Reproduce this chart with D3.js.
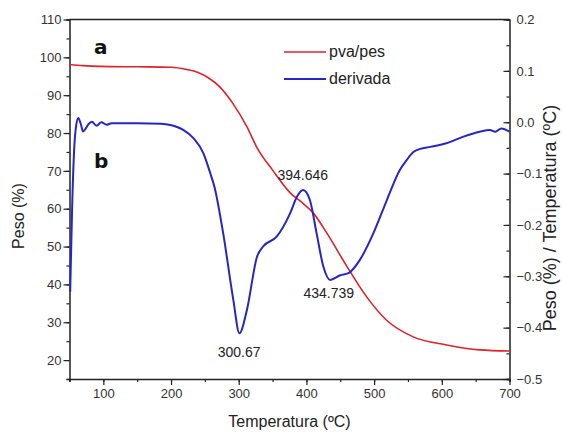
<!DOCTYPE html>
<html>
<head>
<meta charset="utf-8">
<script src="https://cdn.jsdelivr.net/npm/d3@7"></script>
<style>
  body { margin: 0; background: #fff; }
  svg { font-family: "Liberation Sans", Arial, sans-serif; }
</style>
</head>
<body>
<div id="main"></div>
<script>
// TGA curve (pva/pes), left axis
const tempPeso = [50, 70, 95, 150, 200, 223, 240, 255, 272, 291, 312, 328, 350, 376, 395, 410, 430, 460, 489, 518, 557, 607, 656, 700];
const peso = [98.1, 97.8, 97.6, 97.5, 97.4, 96.8, 96.0, 94.6, 92.2, 87.9, 81.7, 75.8, 70.2, 64.2, 61.4, 58.9, 53.6, 44.7, 36.7, 30.6, 26.2, 24.0, 22.7, 22.4];

// DTG curve (derivada), right axis
const tempDeriv = [51, 54, 57, 60, 63, 67, 70, 74, 78, 83, 90, 97, 105, 112, 120, 150, 185, 199, 218, 233, 248, 258, 264, 277, 292, 301, 312, 327, 336, 356, 376, 386, 395, 405, 415, 425, 435, 450, 462, 479, 499, 519, 538, 548, 558, 568, 583, 607, 632, 656, 671, 679, 688, 700];
const deriv = [-0.33, -0.16, -0.05, -0.005, 0.008, -0.005, -0.018, -0.012, -0.004, 0.001, -0.007, 0.0, -0.005, -0.002, -0.002, -0.002, -0.003, -0.0055, -0.015, -0.031, -0.061, -0.0995, -0.125, -0.216, -0.346, -0.411, -0.366, -0.262, -0.242, -0.223, -0.177, -0.145, -0.132, -0.151, -0.216, -0.281, -0.307, -0.298, -0.294, -0.268, -0.216, -0.151, -0.093, -0.074, -0.058, -0.052, -0.048, -0.041, -0.028, -0.0185, -0.015, -0.0185, -0.012, -0.0185];

const xTicks = [100, 200, 300, 400, 500, 600, 700];
const yLeftTicks = [20, 30, 40, 50, 60, 70, 80, 90, 100, 110];
const yRightTicks = [0.2, 0.1, 0.0, -0.1, -0.2, -0.3, -0.4, -0.5];

const peaks = [
  { t: 300.67, v: -0.411, label: "300.67", dy: 24 },
  { t: 394.646, v: -0.132, label: "394.646", dy: -10 },
  { t: 433, v: -0.307, label: "434.739", dy: 18 }
];

const width = 562, height = 433;
const margin = { top: 19.5, right: 52.5, bottom: 54, left: 69.5 };

const svg = d3.select('#main')
  .append('svg')
  .attr('width', width)
  .attr('height', height);

const x = d3.scaleLinear().domain([50, 700]).range([margin.left, width - margin.right]);
const yL = d3.scaleLinear().domain([15, 110]).range([height - margin.bottom, margin.top]);
const yR = d3.scaleLinear().domain([-0.5, 0.2]).range([height - margin.bottom, margin.top]);

const axisColor = '#222';
const labelColor = '#333';

// bottom axis
const gx = svg.append('g')
  .attr('transform', `translate(0,${height - margin.bottom})`);
gx.call(d3.axisBottom(x).tickValues(d3.range(50, 701, 50)).tickSize(3).tickFormat(''));
gx.append('g').call(d3.axisBottom(x).tickValues(xTicks).tickSize(6).tickPadding(4))
  .call(g => g.select('.domain').remove());

// left axis
const gl = svg.append('g').attr('transform', `translate(${margin.left},0)`);
gl.call(d3.axisLeft(yL).tickValues(d3.range(15, 111, 5)).tickSize(3).tickFormat(''));
gl.append('g').call(d3.axisLeft(yL).tickValues(yLeftTicks).tickSize(6).tickPadding(2))
  .call(g => g.select('.domain').remove());

// right axis (ticks inside)
const gr = svg.append('g').attr('transform', `translate(${width - margin.right},0)`);
gr.call(d3.axisRight(yR).tickValues(d3.range(-10, 5).map(d => d * 0.05)).tickSize(-3).tickFormat(''));
gr.append('g').call(d3.axisRight(yR).tickValues(yRightTicks).tickSize(-6).tickPadding(7).tickFormat(d3.format('.1f')))
  .call(g => g.select('.domain').remove());

// top border
svg.append('line')
  .attr('x1', margin.left).attr('x2', width - margin.right)
  .attr('y1', margin.top).attr('y2', margin.top)
  .attr('stroke', axisColor).attr('stroke-width', 1.5);

svg.selectAll('.domain').attr('stroke', axisColor).attr('stroke-width', 1.5);
svg.selectAll('.tick line').attr('stroke', axisColor).attr('stroke-width', 1.2);
svg.selectAll('.tick text').attr('fill', labelColor).attr('font-size', 13);

// curves
const redLine = d3.line()
  .x((d, i) => x(tempPeso[i]))
  .y(d => yL(d))
  .curve(d3.curveMonotoneX);

const blueLine = d3.line()
  .x((d, i) => x(tempDeriv[i]))
  .y(d => yR(d))
  .curve(d3.curveMonotoneX);

svg.append('path')
  .datum(peso)
  .attr('d', redLine)
  .attr('fill', 'none')
  .attr('stroke', '#e0202a')
  .attr('stroke-width', 1.6);

svg.append('path')
  .datum(deriv)
  .attr('d', blueLine)
  .attr('fill', 'none')
  .attr('stroke', '#2626c8')
  .attr('stroke-width', 2);

// peak labels
svg.selectAll('.peak')
  .data(peaks)
  .enter().append('text')
  .attr('class', 'peak')
  .attr('x', d => x(d.t))
  .attr('y', d => yR(d.v) + d.dy)
  .attr('text-anchor', 'middle')
  .attr('font-size', 14)
  .attr('fill', '#222')
  .text(d => d.label);

// a / b markers
svg.append('text').attr('x', 94).attr('y', 54)
  .attr('font-family', '"DejaVu Sans", sans-serif').attr('font-weight', 'bold')
  .attr('font-size', 20).attr('fill', '#111').text('a');
svg.append('text').attr('x', 94).attr('y', 168)
  .attr('font-family', '"DejaVu Sans", sans-serif').attr('font-weight', 'bold')
  .attr('font-size', 20).attr('fill', '#111').text('b');

// legend
const legend = [
  { name: 'pva/pes', color: '#e0202a', w: 1.6, y: 52 },
  { name: 'derivada', color: '#2626c8', w: 2, y: 79 }
];
const lg = svg.selectAll('.legend')
  .data(legend)
  .enter().append('g')
  .attr('class', 'legend');
lg.append('line')
  .attr('x1', 284).attr('x2', 326)
  .attr('y1', d => d.y).attr('y2', d => d.y)
  .attr('stroke', d => d.color)
  .attr('stroke-width', d => d.w);
lg.append('text')
  .attr('x', 329)
  .attr('y', d => d.y + 5)
  .attr('font-size', 16)
  .attr('fill', '#222')
  .text(d => d.name);

// axis titles
svg.append('text')
  .attr('x', (margin.left + width - margin.right) / 2)
  .attr('y', 427)
  .attr('text-anchor', 'middle')
  .attr('font-size', 16)
  .attr('fill', '#222')
  .text('Temperatura (ºC)');

svg.append('text')
  .attr('transform', 'translate(24,216) rotate(-90)')
  .attr('text-anchor', 'middle')
  .attr('font-size', 16)
  .attr('fill', '#222')
  .text('Peso (%)');

svg.append('text')
  .attr('transform', 'translate(556,218) rotate(-90)')
  .attr('text-anchor', 'middle')
  .attr('font-size', 18)
  .attr('fill', '#222')
  .text('Peso (%) / Temperatura (ºC)');
</script>
</body>
</html>
